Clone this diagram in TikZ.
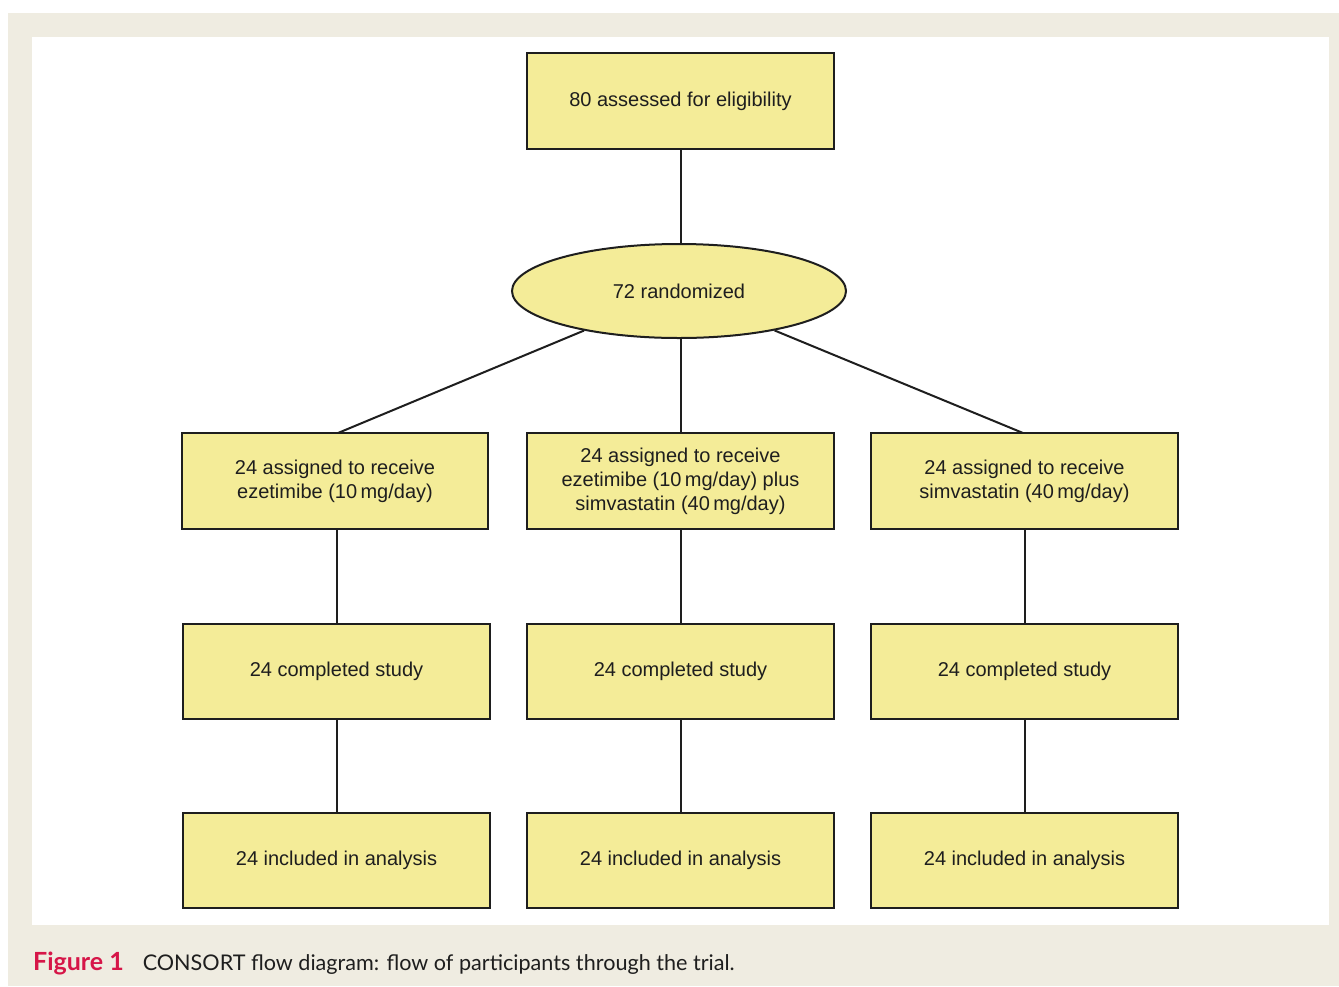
\documentclass[tikz,border=0pt]{standalone}
\usepackage{fontspec}
\setmainfont{Liberation Sans}
\newfontfamily\capfont{Lato}
\usetikzlibrary{shapes.geometric}
\definecolor{boxfill}{RGB}{244,236,152}
\definecolor{panel}{RGB}{239,236,225}
\definecolor{figred}{RGB}{214,22,72}
\definecolor{ink}{RGB}{30,30,30}
\tikzset{
  flowbox/.style={draw=ink, line width=2pt, fill=boxfill, minimum width=307pt, minimum height=96pt, inner sep=0pt, align=center, font=\fontsize{20}{24}\selectfont, text=ink},
  flowellipse/.style={ellipse, draw=ink, line width=2pt, fill=boxfill, minimum width=334pt, minimum height=94pt, inner sep=0pt, font=\fontsize{20}{24}\selectfont, text=ink},
  link/.style={draw=ink, line width=2pt}
}
\begin{document}
\begin{tikzpicture}[x=1pt,y=-1pt]
\useasboundingbox (0,0) rectangle (1339,986);
\fill[white] (0,0) rectangle (1339,986);
\fill[panel] (8,13) rectangle (1339,986);
\fill[white] (32,37) rectangle (1329,925);

\node[flowbox] (top) at (680.5,101) {80 assessed for eligibility};
\node[flowellipse] (rand) at (679,291) {72 randomized};

\node[flowbox, minimum width=306pt] (a1) at (335,481) {24 assigned to receive\\ezetimibe (10\,mg/day)};
\node[flowbox] (a2) at (680.5,481) {24 assigned to receive\\ezetimibe (10\,mg/day) plus\\simvastatin (40\,mg/day)};
\node[flowbox] (a3) at (1024.5,481) {24 assigned to receive\\simvastatin (40\,mg/day)};

\node[flowbox, minimum height=95pt] (c1) at (336.5,671.5) {24 completed study};
\node[flowbox, minimum height=95pt] (c2) at (680.5,671.5) {24 completed study};
\node[flowbox, minimum height=95pt] (c3) at (1024.5,671.5) {24 completed study};

\node[flowbox, minimum height=95pt] (i1) at (336.5,860.5) {24 included in analysis};
\node[flowbox, minimum height=95pt] (i2) at (680.5,860.5) {24 included in analysis};
\node[flowbox, minimum height=95pt] (i3) at (1024.5,860.5) {24 included in analysis};

\coordinate (a1t) at (338,433);
\coordinate (a3t) at (1023,433);

\draw[link] (top.south) -- (top.south |- rand.north);
\draw[link] (rand) -- (a1t);
\draw[link] (a2.north |- rand.south) -- (a2.north);
\draw[link] (rand) -- (a3t);

\draw[link] (a1.south -| c1.north) -- (c1.north);
\draw[link] (a2.south) -- (c2.north);
\draw[link] (a3.south) -- (c3.north);
\draw[link] (c1.south) -- (i1.north);
\draw[link] (c2.south) -- (i2.north);
\draw[link] (c3.south) -- (i3.north);

\node[anchor=base west, inner sep=0pt, font=\capfont\fontsize{21.6}{26}\selectfont] (cap) at (33,970)
  {\textcolor{figred}{\fontsize{25}{28}\selectfont\bfseries Figure\hspace{6pt}1}\hspace{19pt}\textcolor{ink}{CONSORT flow diagram: flow of participants through the trial.}};
\end{tikzpicture}
\end{document}
